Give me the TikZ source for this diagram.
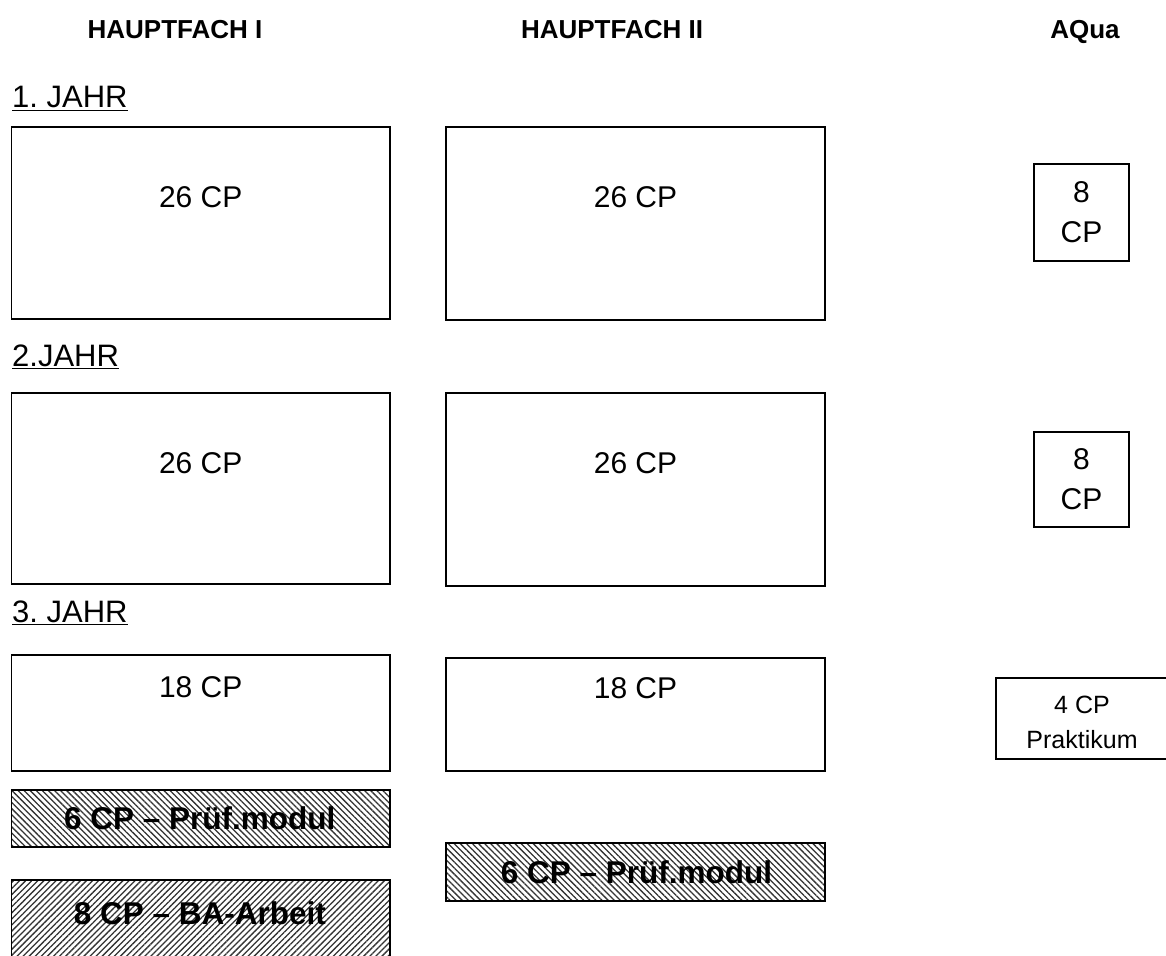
\documentclass[tikz,border=0pt]{standalone}
\usepackage{fontspec}
\setmainfont{Liberation Sans}
\usetikzlibrary{patterns.meta}
\frenchspacing

\tikzset{
  box/.style={draw=black, line width=1.7pt, rectangle, inner sep=0pt, fill=white},
  hatchL/.style={box, pattern={Lines[angle=-45,distance=4.3pt,line width=1.3pt]}, pattern color=black!80},
  hatchR/.style={box, pattern={Lines[angle=45,distance=4.3pt,line width=1.3pt]}, pattern color=black!80},
  head/.style={font=\fontsize{26}{30}\selectfont\bfseries, inner sep=0pt, anchor=base},
  cp/.style={font=\fontsize{30}{40}\selectfont, inner sep=0pt},
  small/.style={font=\fontsize{25}{35}\selectfont, inner sep=0pt, align=center},
  bold/.style={font=\fontsize{31.5}{34}\selectfont\bfseries, inner sep=0pt},
  year/.style={font=\fontsize{31}{34}\selectfont, inner sep=0pt, anchor=base west},
}

\begin{document}
\begin{tikzpicture}[x=1pt,y=-1pt]
  \useasboundingbox (0,0) rectangle (1166,955);

  % column headers
  \node[head] (t1) at (175,39) {HAUPTFACH I};
  \node[head] (t2) at (612,39) {HAUPTFACH II};
  \node[head] (t3) at (1085,39) {AQua};

  % year labels
  \node[year] (y1) at (12,108) {\underline{1. JAHR}};
  \node[year] (y2) at (12,366) {\underline{2.JAHR}};
  \node[year] (y3) at (12,622) {\underline{3. JAHR}};

  % year 1
  \node[box, minimum width=378.5, minimum height=192] (h1a) at (200.75,223) {};
  \node[box, minimum width=379, minimum height=193] (h2a) at (635.5,223.5) {};
  \node[box, minimum width=95, minimum height=97] (q1) at (1081.5,212.5) {};
  \node[cp] at ([yshift=-71]h1a.north) {26 CP};
  \node[cp] at ([yshift=-71]h2a.north) {26 CP};
  \node[cp, align=center] at (q1) {8\\CP};

  % year 2
  \node[box, minimum width=378.5, minimum height=191] (h1b) at (200.75,488.5) {};
  \node[box, minimum width=379, minimum height=193] (h2b) at (635.5,489.5) {};
  \node[box, minimum width=95, minimum height=95] (q2) at (1081.5,479.5) {};
  \node[cp] at ([yshift=-71]h1b.north) {26 CP};
  \node[cp] at ([yshift=-71]h2b.north) {26 CP};
  \node[cp, align=center] at (q2) {8\\CP};

  % year 3
  \node[box, minimum width=378.5, minimum height=116] (h1c) at (200.75,713) {};
  \node[box, minimum width=379, minimum height=113] (h2c) at (635.5,714.5) {};
  \node[box, minimum width=176, minimum height=81] (pr) at (1084,718.5) {};
  \node[cp] at ([yshift=-33]h1c.north) {18 CP};
  \node[cp] at ([yshift=-31]h2c.north) {18 CP};
  \node[small] at ([xshift=-2,yshift=-4]pr) {4 CP\\Praktikum};

  % examination modules and thesis
  \node[hatchL, minimum width=378.5, minimum height=57] (p1) at (200.75,818.5) {};
  \node[bold] at ([xshift=-1]p1) {6 CP – Prüf.modul};
  \node[hatchR, minimum width=378.5, minimum height=82] (ba) at (200.75,921) {};
  \node[bold] at (200,913) {8 CP – BA-Arbeit};
  \node[hatchL, minimum width=379, minimum height=58] (p2) at (635.5,872) {};
  \node[bold] at ([xshift=1]p2) {6 CP – Prüf.modul};
\end{tikzpicture}
\end{document}
